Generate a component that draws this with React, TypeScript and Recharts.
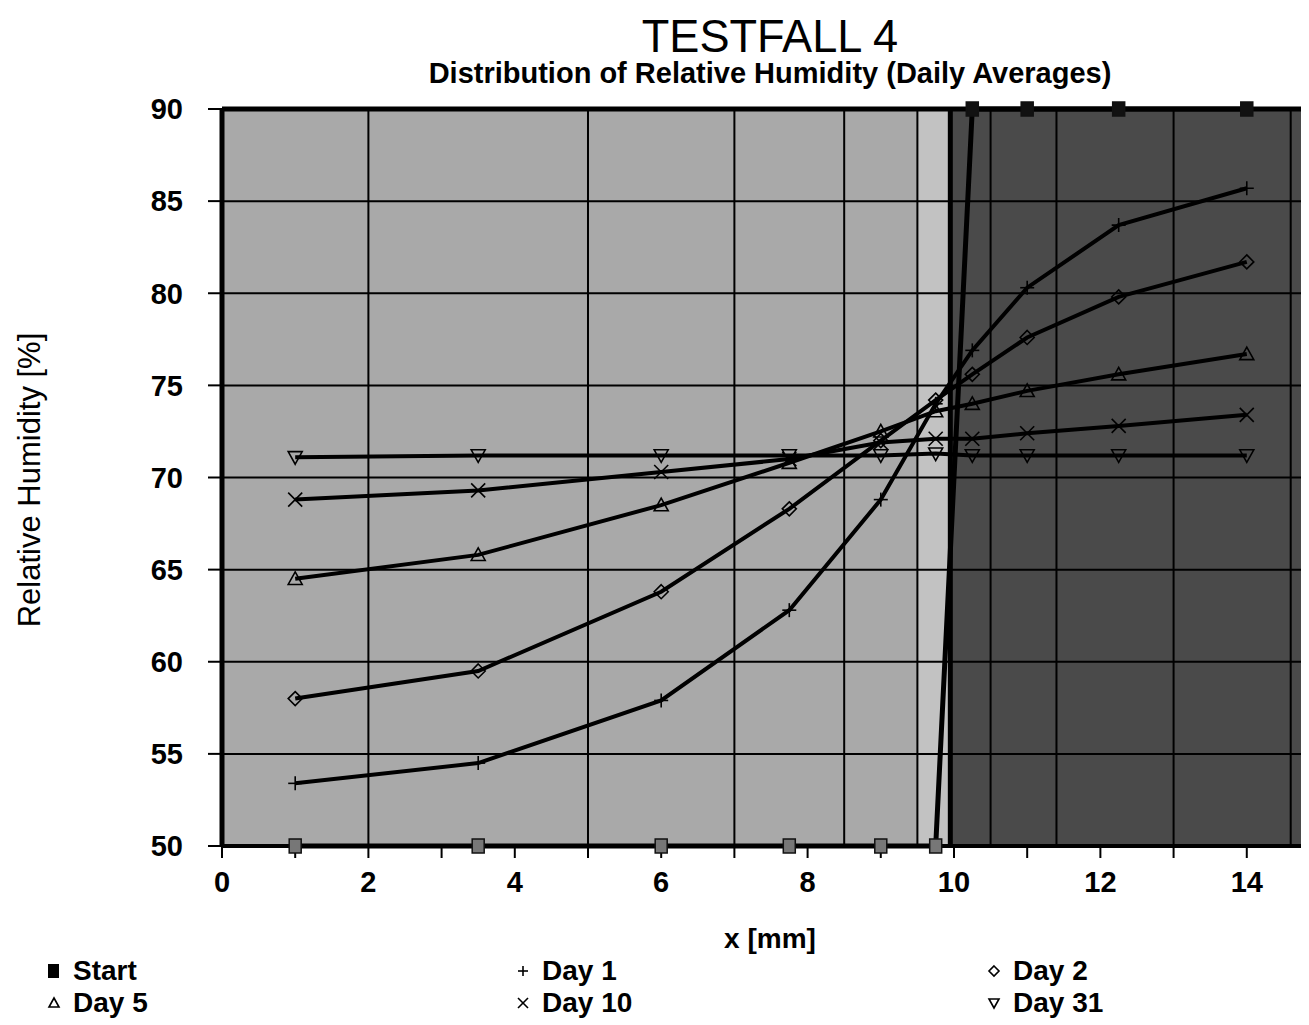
import React from "react";
import { LineChart, Line, XAxis, YAxis, ReferenceLine, ReferenceArea } from "recharts";

const xPositions = [1, 3.5, 6, 7.75, 9, 9.75, 10.25, 11, 12.25, 14];
const start = [50, 50, 50, 50, 50, 50, 90, 90, 90, 90];
const day1 = [53.4, 54.5, 57.9, 62.8, 68.8, 74.0, 76.9, 80.3, 83.7, 85.7];
const day2 = [58.0, 59.5, 63.8, 68.3, 72.0, 74.2, 75.6, 77.6, 79.8, 81.7];
const day5 = [64.5, 65.8, 68.5, 70.8, 72.5, 73.6, 74.0, 74.7, 75.6, 76.7];
const day10 = [68.8, 69.3, 70.3, 71.0, 71.9, 72.1, 72.1, 72.4, 72.8, 73.4];
const day31 = [71.1, 71.2, 71.2, 71.2, 71.2, 71.3, 71.2, 71.2, 71.2, 71.2];

const xTicks = [0, 1, 2, 3, 4, 5, 6, 7, 8, 9, 10, 11, 12, 13, 14];
const yTicks = [50, 55, 60, 65, 70, 75, 80, 85, 90];
const gridX = [2, 5, 7, 8.5, 9.5, 10.5, 11.4, 13, 14.6];
const layerEdge = 9.95;

const data = xPositions.map((x, i) => ({
  x,
  start: start[i],
  day1: day1[i],
  day2: day2[i],
  day5: day5[i],
  day10: day10[i],
  day31: day31[i],
}));

const font = "'Liberation Sans', Arial, sans-serif";

type Kind = "square" | "plus" | "diamond" | "up" | "cross" | "down";

function Marker({ kind, cx, cy, s = 6 }: { kind: Kind; cx: number; cy: number; s?: number }) {
  const st = { stroke: "#000", strokeWidth: 1.6, fill: "none" };
  switch (kind) {
    case "square":
      return <rect x={cx - s} y={cy - s - 1} width={s * 2} height={s * 2 + 2} fill={cy > 500 ? "#777" : "#111"} stroke="#111" strokeWidth={1.5} />;
    case "plus":
      return (
        <g {...st}>
          <line x1={cx - s} y1={cy} x2={cx + s} y2={cy} />
          <line x1={cx} y1={cy - s} x2={cx} y2={cy + s} />
        </g>
      );
    case "diamond":
      return <polygon points={`${cx},${cy - s} ${cx + s},${cy} ${cx},${cy + s} ${cx - s},${cy}`} {...st} />;
    case "up":
      return <polygon points={`${cx},${cy - s} ${cx + s},${cy + s * 0.8} ${cx - s},${cy + s * 0.8}`} {...st} />;
    case "down":
      return <polygon points={`${cx},${cy + s} ${cx + s},${cy - s * 0.8} ${cx - s},${cy - s * 0.8}`} {...st} />;
    case "cross":
      return (
        <g {...st}>
          <line x1={cx - s} y1={cy - s} x2={cx + s} y2={cy + s} />
          <line x1={cx - s} y1={cy + s} x2={cx + s} y2={cy - s} />
        </g>
      );
  }
}

const dot = (kind: Kind) => (props: any) => (
  <g key={`${kind}-${props.index}`}>
    <Marker kind={kind} cx={props.cx} cy={props.cy} s={kind === "square" ? 6 : 7} />
  </g>
);

const series: { key: string; name: string; kind: Kind }[] = [
  { key: "start", name: "Start", kind: "square" },
  { key: "day1", name: "Day 1", kind: "plus" },
  { key: "day2", name: "Day 2", kind: "diamond" },
  { key: "day5", name: "Day 5", kind: "up" },
  { key: "day10", name: "Day 10", kind: "cross" },
  { key: "day31", name: "Day 31", kind: "down" },
];

const legendPos = [
  { left: 37, top: 947 },
  { left: 506, top: 947 },
  { left: 977, top: 947 },
  { left: 37, top: 979 },
  { left: 506, top: 979 },
  { left: 977, top: 979 },
];

const XTick = (props: any) => {
  const v = props.payload.value;
  if (v % 2 !== 0) return <g />;
  return (
    <text x={props.x} y={props.y + 32} textAnchor="middle" fontFamily={font} fontWeight="bold" fontSize={29} fill="#000">
      {v}
    </text>
  );
};

export default function App() {
  return (
    <div style={{ position: "relative", width: 1301, height: 1017, background: "#fff", fontFamily: font }}>
      <div style={{ position: "absolute", left: 0, width: 1524, top: 5, textAlign: "center", fontSize: 46, lineHeight: "46px", color: "#000", transform: "scaleX(0.98)" }}>
        TESTFALL 4
      </div>
      <div style={{ position: "absolute", left: 0, width: 1524, top: 49, textAlign: "center", fontSize: 29, fontWeight: "bold", lineHeight: "32px" }}>
        Distribution of Relative Humidity (Daily Averages)
      </div>
      <div
        style={{
          position: "absolute",
          left: 22 - 170,
          top: 472 - 18,
          width: 340,
          textAlign: "center",
          fontSize: 31,
          lineHeight: "36px",
          transform: "rotate(-90deg)",
        }}
      >
        Relative Humidity [%]
      </div>
      <div style={{ position: "absolute", left: 662, width: 200, top: 915, textAlign: "center", fontSize: 28, fontWeight: "bold", lineHeight: "32px" }}>
        x [mm]
      </div>
      <div style={{ position: "absolute", left: 0, top: 0 }}>
        <LineChart width={1301} height={900} data={data} margin={{ top: 101, right: 0, bottom: 12, left: 0 }}>
          <ReferenceArea x1={0} x2={9.5} y1={50} y2={90} fill="#a9a9a9" fillOpacity={1} stroke="none" />
          <ReferenceArea x1={9.5} x2={layerEdge} y1={50} y2={90} fill="#c2c2c2" fillOpacity={1} stroke="none" />
          <ReferenceArea x1={layerEdge} x2={14.85} y1={50} y2={90} fill="#4a4a4a" fillOpacity={1} stroke="none" />
          {yTicks.slice(1, -1).map((y) => (
            <ReferenceLine key={`h${y}`} y={y} stroke="#000" strokeWidth={2} />
          ))}
          {gridX.map((x) => (
            <ReferenceLine key={`v${x}`} x={x} stroke="#000" strokeWidth={2} />
          ))}
          <ReferenceLine x={layerEdge} stroke="#000" strokeWidth={5} />
          <ReferenceLine y={90} stroke="#000" strokeWidth={5} />
          <XAxis
            type="number"
            dataKey="x"
            domain={[0, 14.85]}
            ticks={xTicks}
            allowDataOverflow
            height={50}
            axisLine={{ stroke: "#000", strokeWidth: 4 }}
            tickLine={{ stroke: "#000", strokeWidth: 2 }}
            tickSize={12}
            tick={<XTick />}
            interval={0}
          />
          <YAxis
            type="number"
            domain={[50, 90]}
            ticks={yTicks}
            width={214}
            axisLine={{ stroke: "#000", strokeWidth: 5 }}
            tickLine={{ stroke: "#000", strokeWidth: 2 }}
            tickSize={14}
            tickMargin={25}
            tick={{ fill: "#000", fontSize: 29, fontWeight: "bold", fontFamily: font }}
          />
          {series.map((s) => (
            <Line
              key={s.key}
              type="linear"
              dataKey={s.key}
              name={s.name}
              stroke="#000"
              strokeWidth={s.key === "start" ? 5 : 4}
              dot={dot(s.kind)}
              activeDot={false}
              isAnimationActive={false}
            />
          ))}
        </LineChart>
      </div>
      {series.map((s, i) => (
        <div key={s.key} style={{ position: "absolute", left: legendPos[i].left, top: legendPos[i].top, height: 32, display: "flex", alignItems: "center" }}>
          <svg width={18} height={20} style={{ marginRight: 10 }}>
            {s.kind === "square" ? (
              <rect x={3} y={3} width={11} height={14} fill="#000" />
            ) : (
              <Marker kind={s.kind} cx={9} cy={10} s={5} />
            )}
          </svg>
          <span style={{ fontSize: 28, fontWeight: "bold", lineHeight: "32px" }}>{s.name}</span>
        </div>
      ))}
    </div>
  );
}
